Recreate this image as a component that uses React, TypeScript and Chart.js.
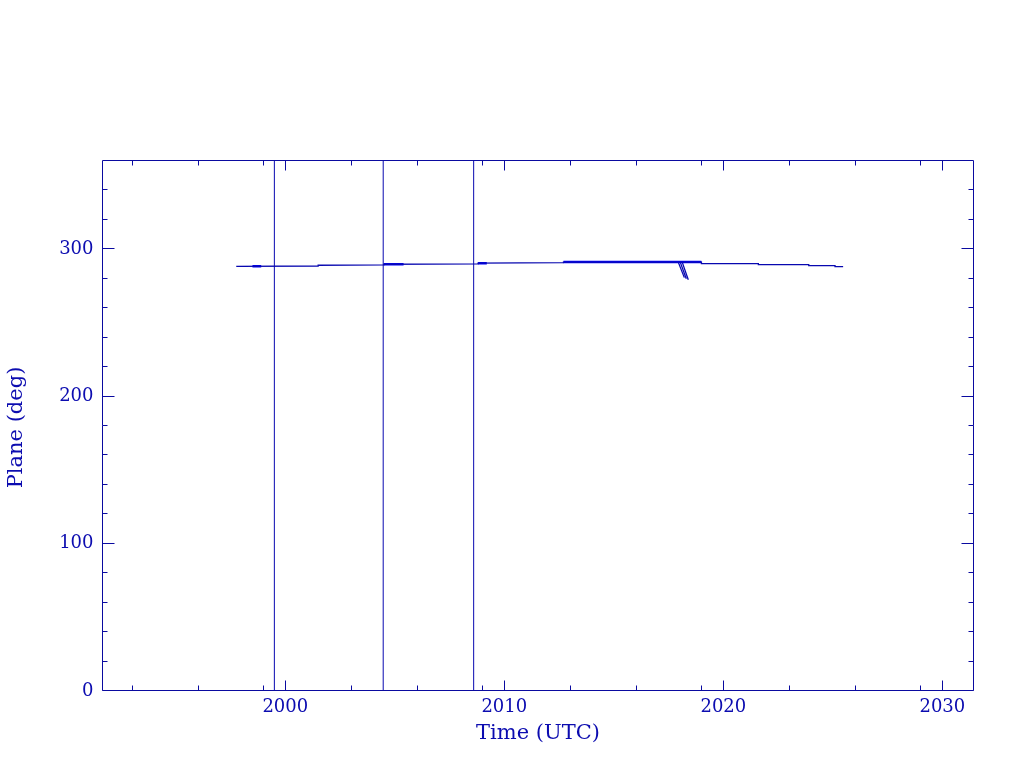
import React, { useEffect, useRef } from "react";
import { Chart, registerables } from "chart.js";

Chart.register(...registerables);

// ---- data ----
const X_MIN = 1991.63;
const X_MAX = 2031.4;
const Y_MIN = 0;
const Y_MAX = 360;

const xMajorTicks = [2000, 2010, 2020, 2030];
const xMinorTicks = [1993, 1996, 1999, 2003, 2006, 2009, 2013, 2016, 2019, 2023, 2026, 2029];
const yMajorTicks = [0, 100, 200, 300];
const yMinorTicks = [20, 40, 60, 80, 120, 140, 160, 180, 220, 240, 260, 280, 320, 340];

const xTitle = "Time (UTC)";
const yTitle = "Plane (deg)";

const trackYears = [1997.76, 2001.5, 2001.5, 2004.5, 2004.5, 2008.8, 2008.8, 2012.7, 2012.7, 2019.0, 2019.0, 2021.6, 2021.6, 2023.9, 2023.9, 2025.1, 2025.1, 2025.47];
const trackPlane = [287.8, 288.0, 288.5, 288.7, 289.2, 289.5, 289.9, 290.3, 290.7, 290.7, 289.6, 289.6, 288.9, 288.9, 288.2, 288.2, 287.6, 287.6];

const thickStartYears = [1998.5, 2004.5, 2008.8, 2012.7];
const thickEndYears = [1998.9, 2005.4, 2009.2, 2019.0];
const thickPlane = [287.9, 289.2, 289.8, 290.8];

const wrapYears = [1999.5, 2004.47, 2008.6];

const strokeStartYears = [2017.95, 2018.04, 2018.13];
const strokeEndYears = [2018.22, 2018.31, 2018.4];
const strokeTop = [290.3, 290.3, 290.3];
const strokeBottom = [280.1, 279.4, 278.7];

const FRAME = "#0a0aa0";
const TEXT = "#0c0cb0";
const THIN = "#0808b0";
const THICK = "#0000ff";

type P = { x: number; y: number | null };

function buildSegments(x0: number[], x1: number[], y0: number[], y1: number[]): P[] {
  const out: P[] = [];
  x0.forEach((_, i) => {
    if (i > 0) out.push({ x: x0[i], y: null });
    out.push({ x: x0[i], y: y0[i] });
    out.push({ x: x1[i], y: y1[i] });
  });
  return out;
}

const framePlugin = {
  id: "pgframe",
  afterDraw(chart: any) {
    const { ctx, chartArea } = chart;
    const xs = chart.scales.x;
    const ys = chart.scales.y;
    const L = Math.round(chartArea.left) + 0.5;
    const R = Math.round(chartArea.right) + 0.5;
    const T = Math.round(chartArea.top) + 0.5;
    const B = Math.round(chartArea.bottom) + 0.5;
    ctx.save();
    ctx.strokeStyle = FRAME;
    ctx.lineWidth = 1;
    ctx.beginPath();
    ctx.rect(L, T, R - L, B - T);
    ctx.stroke();
    const vline = (v: number, len: number) => {
      const px = Math.round(xs.getPixelForValue(v)) + 0.5;
      ctx.moveTo(px, B);
      ctx.lineTo(px, B - len);
      ctx.moveTo(px, T);
      ctx.lineTo(px, T + len);
    };
    const hline = (v: number, len: number) => {
      const py = Math.round(ys.getPixelForValue(v)) + 0.5;
      ctx.moveTo(L, py);
      ctx.lineTo(L + len, py);
      ctx.moveTo(R, py);
      ctx.lineTo(R - len, py);
    };
    ctx.beginPath();
    xMajorTicks.forEach((v) => vline(v, 10));
    xMinorTicks.forEach((v) => vline(v, 5));
    yMajorTicks.forEach((v) => hline(v, 12));
    yMinorTicks.forEach((v) => hline(v, 5));
    ctx.stroke();

    ctx.fillStyle = TEXT;
    ctx.font = '18px "DejaVu Serif"';
    ctx.textAlign = "center";
    ctx.textBaseline = "alphabetic";
    xMajorTicks.forEach((v) => {
      ctx.fillText(String(v), xs.getPixelForValue(v), B + 21);
    });
    ctx.textAlign = "right";
    ctx.textBaseline = "middle";
    yMajorTicks.forEach((v) => {
      ctx.fillText(String(v), L - 9, ys.getPixelForValue(v) + 1);
    });
    ctx.font = '21px "DejaVu Serif"';
    ctx.textAlign = "center";
    ctx.textBaseline = "alphabetic";
    ctx.fillText(xTitle, (L + R) / 2, B + 48);
    ctx.save();
    ctx.translate(22, (T + B) / 2 + 2);
    ctx.rotate(-Math.PI / 2);
    ctx.fillText(yTitle, 0, 0);
    ctx.restore();
    ctx.restore();
  },
};

export default function App() {
  const ref = useRef<HTMLCanvasElement | null>(null);
  useEffect(() => {
    if (!ref.current) return;
    const track: P[] = trackYears.map((x, i) => ({ x, y: trackPlane[i] }));
    const thick = buildSegments(thickStartYears, thickEndYears, thickPlane, thickPlane);
    const wraps = buildSegments(
      wrapYears,
      wrapYears,
      wrapYears.map(() => Y_MIN),
      wrapYears.map(() => Y_MAX)
    );
    const strokes = buildSegments(strokeStartYears, strokeEndYears, strokeTop, strokeBottom);
    const common = { pointRadius: 0, fill: false, tension: 0, spanGaps: false };
    const chart = new Chart(ref.current, {
      type: "line",
      data: {
        datasets: [
          { ...common, data: wraps, borderColor: THIN, borderWidth: 1 },
          { ...common, data: track, borderColor: THIN, borderWidth: 1.3 },
          { ...common, data: thick, borderColor: THICK, borderWidth: 2.5 },
          { ...common, data: strokes, borderColor: THIN, borderWidth: 1.3 },
        ] as any,
      },
      options: {
        animation: false,
        responsive: false,
        layout: { padding: { left: 102, right: 51, top: 160, bottom: 78 } },
        plugins: { legend: { display: false }, tooltip: { enabled: false } },
        scales: {
          x: { type: "linear", min: X_MIN, max: X_MAX, display: false },
          y: { type: "linear", min: Y_MIN, max: Y_MAX, display: false },
        },
      },
      plugins: [framePlugin],
    });
    return () => chart.destroy();
  }, []);
  return (
    <div style={{ position: "fixed", left: 0, top: 0, width: 1024, height: 768, background: "#fff" }}>
      <canvas ref={ref} width={1024} height={768} style={{ width: 1024, height: 768 }} />
    </div>
  );
}
